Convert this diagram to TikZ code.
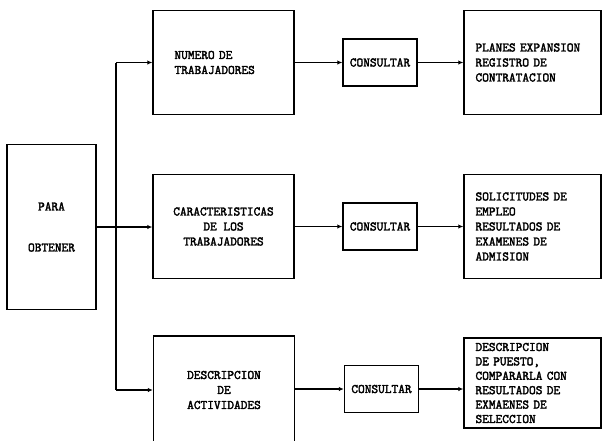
\documentclass[tikz,border=0pt]{standalone}
\usepackage{fontspec}
\setmonofont{Latin Modern Mono}[AutoFakeBold=2.5]
\usetikzlibrary{arrows.meta,positioning,calc}

\begin{document}
\begin{tikzpicture}[x=1pt, y=-1pt,
  box/.style={draw, line width=1.4pt, inner sep=0pt, font=\fontsize{13}{15}\selectfont\ttfamily\bfseries},
  blk/.style={box, minimum width=141pt, minimum height=104pt},
  cons/.style={box, minimum width=74pt, minimum height=47pt},
  src/.style={box, minimum width=137pt, minimum height=104pt, text width=114pt, align=left},
  link/.style={line width=1.2pt, -{Latex[length=5pt,width=4.5pt]}},
]

\clip (0,0) rectangle (602,440);

\def\rowa{62.5}
\def\rowb{226.5}
\def\rowc{390}

% --- Para obtener ---
\node[box, minimum width=89pt, minimum height=165pt, align=center] (obtener) at (51.5,227) {PARA\\[26pt]OBTENER};
\coordinate (bus) at (116,0);

% --- Numero de trabajadores ---
\node[blk, text width=98pt, align=left] (num) at (223.5,\rowa) {NUMERO DE\\TRABAJADORES};
\node[cons] (cons1) at (380,\rowa) {CONSULTAR};
\node[src] (plan) at (532.5,\rowa) {PLANES EXPANSION\\REGISTRO DE\\CONTRATACION};

% --- Caracteristicas ---
\node[blk, align=center] (car) at (223.5,\rowb) {CARACTERISTICAS\\DE LOS\\TRABAJADORES};
\node[cons] (cons2) at (380,\rowb) {CONSULTAR};
\node[src] (sol) at (532.5,\rowb) {SOLICITUDES DE\\EMPLEO\\RESULTADOS DE\\EXAMENES DE\\ADMISION};

% --- Descripcion de actividades ---
\node[blk, minimum height=108pt, align=center] (act) at (224,\rowc) {DESCRIPCION\\DE\\ACTIVIDADES};
\node[cons] (cons3) at (381.5,389) {CONSULTAR};
\node[src, minimum height=90pt, font=\fontsize{13}{14.4}\selectfont\ttfamily\bfseries] (pto) at (532.5,383) {DESCRIPCION\\DE PUESTO,\\COMPARARLA CON\\RESULTADOS DE\\EXMAENES DE\\SELECCION};

% --- connectors ---
\draw[link] (obtener.east) -- (obtener.east -| car.west);
\draw[line width=1.2pt] (bus |- num.west) -- (bus |- act.west);
\draw[link] (bus |- num.west) -- (num.west);
\draw[link] (bus |- act.west) -- (act.west);

\draw[link] (num.east) -- (cons1.west);
\draw[link] (cons1.east) -- (plan.west);
\draw[link] (car.east) -- (cons2.west);
\draw[link] (cons2.east) -- (sol.west);
\draw[link] (act.east |- cons3.west) -- (cons3.west);
\draw[link] (cons3.east) -- (cons3.east -| pto.west);

\end{tikzpicture}
\end{document}
